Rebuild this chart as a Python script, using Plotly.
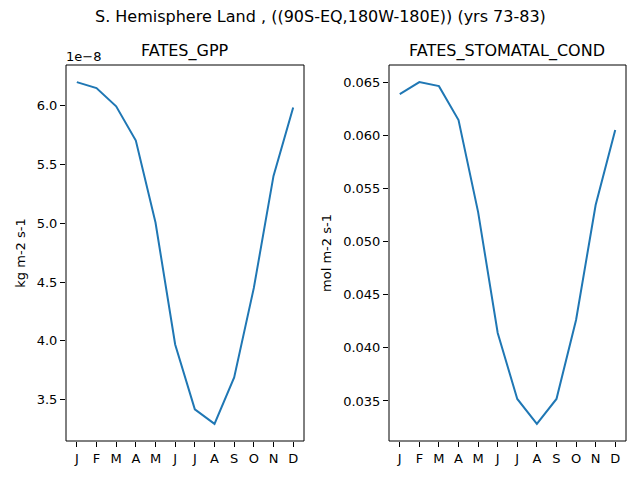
import plotly.graph_objects as go

months = ["J", "F", "M", "A", "M", "J", "J", "A", "S", "O", "N", "D"]
month_num = list(range(1, 13))

# FATES_GPP (kg m-2 s-1)
gpp = [6.196e-8, 6.145e-8, 5.99e-8, 5.70e-8, 5.005e-8, 3.97e-8,
       3.42e-8, 3.296e-8, 3.69e-8, 4.45e-8, 5.40e-8, 5.98e-8]
# FATES_STOMATAL_COND (mol m-2 s-1)
cond = [0.06387, 0.0650, 0.06462, 0.06143, 0.05277, 0.04139,
        0.03519, 0.03284, 0.03519, 0.04262, 0.05343, 0.06049]

gpp_ticks = [3.5e-8, 4.0e-8, 4.5e-8, 5.0e-8, 5.5e-8, 6.0e-8]
gpp_ticktext = ["3.5", "4.0", "4.5", "5.0", "5.5", "6.0"]
cond_ticks = [0.035, 0.040, 0.045, 0.050, 0.055, 0.060, 0.065]

blue = "#1f77b4"
font = "DejaVu Sans"

fig = go.Figure()
fig.add_trace(go.Scatter(x=month_num, y=gpp, mode="lines",
                         line=dict(color=blue, width=2), xaxis="x", yaxis="y"))
fig.add_trace(go.Scatter(x=month_num, y=cond, mode="lines",
                         line=dict(color=blue, width=2), xaxis="x2", yaxis="y2"))


def span(v):
    lo, hi = min(v), max(v)
    pad = (hi - lo) * 0.05
    return [lo - pad, hi + pad]


ax = dict(showline=False, showgrid=False, zeroline=False,
          ticks="outside", ticklen=5, tickcolor="black", automargin=False,
          tickfont=dict(family=font, size=13, color="black"))


def label(text, x, y, size, xanchor="center"):
    return dict(text=text, x=x / 640, y=1 - y / 480, xref="paper", yref="paper",
                xanchor=xanchor, yanchor="middle", showarrow=False,
                font=dict(size=size))


fig.update_layout(
    width=640, height=480,
    margin=dict(l=0, r=0, t=0, b=0, pad=0),
    paper_bgcolor="white", plot_bgcolor="white",
    showlegend=False,
    font=dict(family=font, color="black"),
    xaxis=dict(ax, domain=[66 / 640, 304 / 640], range=[0.45, 12.55],
               tickvals=month_num, ticktext=months, anchor="y"),
    yaxis=dict(ax, domain=[1 - 441 / 480, 1 - 65 / 480], range=span(gpp),
               tickvals=gpp_ticks, ticktext=gpp_ticktext, anchor="x",
               title=dict(text="kg m-2 s-1", font=dict(size=13), standoff=8)),
    xaxis2=dict(ax, domain=[389 / 640, 626 / 640], range=[0.45, 12.55],
                tickvals=month_num, ticktext=months, anchor="y2"),
    yaxis2=dict(ax, domain=[1 - 441 / 480, 1 - 65 / 480], range=span(cond),
                tickvals=cond_ticks, tickformat=".3f", anchor="x2",
                title=dict(text="mol m-2 s-1", font=dict(size=13), standoff=8)),
    annotations=[
        label("S. Hemisphere Land , ((90S-EQ,180W-180E)) (yrs 73-83)", 320, 17, 16),
        label("FATES_GPP", 185, 51, 16),
        label("FATES_STOMATAL_COND", 507, 51, 16),
        label("1e\u22128", 64, 56, 13, xanchor="left"),
    ],
)

# axes frames (matplotlib-style spines)
for xa, ya in (("x", "y"), ("x2", "y2")):
    fig.add_shape(type="rect", xref=xa + " domain", yref=ya + " domain",
                  x0=0, x1=1, y0=0, y1=1, line=dict(color="black", width=1),
                  layer="above")

fig.write_html("out.html", config={"displayModeBar": False},
               post_script="document.body.style.margin='0';"
                           "document.body.style.overflow='hidden';")
